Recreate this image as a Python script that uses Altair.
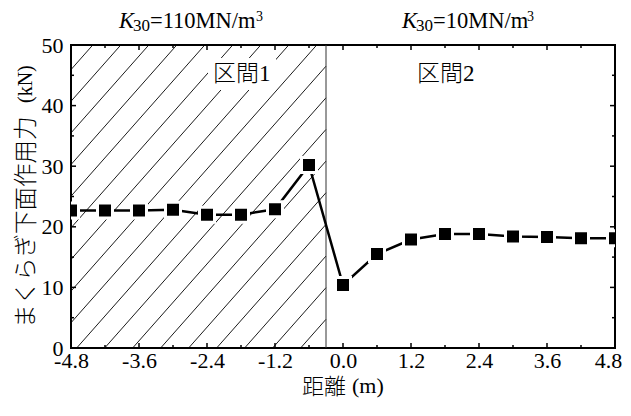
import altair as alt
import pandas as pd
import numpy as np

# ---- data ----
dist = [-4.8, -4.2, -3.6, -3.0, -2.4, -1.8, -1.2, -0.6, 0.0, 0.6, 1.2, 1.8, 2.4, 3.0, 3.6, 4.2, 4.8]
force = [22.7, 22.7, 22.7, 22.8, 22.0, 22.0, 22.9, 30.2, 10.4, 15.5, 17.9, 18.8, 18.8, 18.4, 18.3, 18.1, 18.1]
x_major = [-4.8, -3.6, -2.4, -1.2, 0.0, 1.2, 2.4, 3.6, 4.8]
x_minor = [-4.2, -3.0, -1.8, -0.6, 0.6, 1.8, 3.0, 4.2]
y_major = [0, 10, 20, 30, 40, 50]
y_minor = [5, 15, 25, 35, 45]
boundary = [-0.3]

W, H = 544, 303
SERIF = "Liberation Serif"
CJK = "Noto Sans CJK JP"
XMIN, XMAX, YMIN, YMAX = -4.8, 4.8, 0, 50

df = pd.DataFrame({"x": dist, "y": force})

# hatch pattern (decoration) for the left region
slope = 10.57
step = 0.494
x0s = -4.70 + step * np.arange(-12, 12)
rows = []
for x0 in x0s:
    xs = max(x0, XMIN)
    xe = min(x0 + YMAX / slope, boundary[0])
    if xs < xe:
        rows.append({"hx": xs, "hy": slope * (xs - x0), "hx2": xe, "hy2": slope * (xe - x0)})
hatch_df = pd.DataFrame(rows)

xs_ = alt.Scale(domain=[XMIN, XMAX], nice=False, zero=False)
ys_ = alt.Scale(domain=[YMIN, YMAX], nice=False, zero=False)

x_axis = alt.Axis(values=x_major, title=None, ticks=False, domain=False, grid=False,
                  labelFont=SERIF, labelFontSize=22, labelColor="black", labelPadding=2,
                  labelFlush=False, labelOverlap=False,
                  labelOffset={"condition": {"test": "datum.value >= 4.8", "value": -7}, "value": 0},
                  labelExpr="replace(format(datum.value, '.1f'), '\u2212', '-')")
y_axis = alt.Axis(values=y_major, title=None, ticks=False, domain=False, grid=False,
                  labelFont=SERIF, labelFontSize=22, labelColor="black", labelPadding=8,
                  labelFlush=False, labelOverlap=False)

def X(f):
    return alt.X(f, scale=xs_, axis=x_axis)

def Y(f):
    return alt.Y(f, scale=ys_, axis=y_axis)

hatch = alt.Chart(hatch_df).mark_rule(color="black", strokeWidth=0.9, clip=True).encode(
    x=X("hx:Q"), y=Y("hy:Q"), x2="hx2:Q", y2="hy2:Q")

white_box = alt.Chart(pd.DataFrame({"a": [0]})).mark_rect(color="white").encode(
    x=alt.value(137), x2=alt.value(205), y=alt.value(13), y2=alt.value(45))

vline = alt.Chart(pd.DataFrame({"b": boundary})).mark_rule(color="#333333", strokeWidth=1).encode(
    x=X("b:Q"), y=alt.value(0), y2=alt.value(H))

def tick_layer(vals, orient, length):
    d = pd.DataFrame({"v": vals})
    base = alt.Chart(d).mark_rule(color="black", strokeWidth=1.5)
    if orient == "bottom":
        return base.encode(x=X("v:Q"), y=alt.value(H), y2=alt.value(H - length))
    if orient == "top":
        return base.encode(x=X("v:Q"), y=alt.value(0), y2=alt.value(length))
    if orient == "left":
        return base.encode(y=Y("v:Q"), x=alt.value(0), x2=alt.value(length))
    return base.encode(y=Y("v:Q"), x=alt.value(W), x2=alt.value(W - length))

ticks = []
for o in ["bottom", "top"]:
    ticks.append(tick_layer(x_major, o, 5))
    ticks.append(tick_layer(x_minor, o, 3))
for o in ["left", "right"]:
    ticks.append(tick_layer(y_major, o, 5))
    ticks.append(tick_layer(y_minor, o, 3))

line = alt.Chart(df).mark_line(color="black", strokeWidth=2.5, clip=True).encode(
    x=X("x:Q"), y=Y("y:Q"))

points = alt.Chart(df).mark_point(shape="square", filled=True, fill="black", stroke="white",
                                  strokeWidth=3, size=225, opacity=1, clip=True).encode(
    x=X("x:Q"), y=Y("y:Q"))

def txt(text, x, y, size, style="normal", align="left", baseline="alphabetic", angle=0,
        font=SERIF, weight=400):
    return alt.Chart(pd.DataFrame({"t": [text]})).mark_text(
        font=font, fontSize=size, fontStyle=style, fontWeight=weight, align=align,
        baseline=baseline, angle=angle, color="black").encode(
        text="t:N", x=alt.value(x), y=alt.value(y))

labels = [
    txt("K", 48, -17, 22.5, style="italic"),
    txt("30", 62, -14.5, 17),
    txt("=110MN/m", 79, -17, 22.5),
    txt("3", 185, -24, 14),
    txt("K", 331, -17, 22.5, style="italic"),
    txt("30", 345, -14.5, 17),
    txt("=10MN/m", 362, -17, 22.5),
    txt("3", 456, -24, 14),
    txt("区間", 142, 36, 23, font=CJK, weight=300),
    txt("1", 188, 36, 23),
    txt("区間", 346, 36, 23, font=CJK, weight=300),
    txt("2", 392, 36, 23),
    txt("距離", 231, 349, 22, font=CJK, weight=300),
    txt("(m)", 281, 348, 22),
    txt("まくらぎ下面作用力", -37, 283, 23.5, angle=270, font=CJK, weight=300),
    txt("(kN)", -39, 58, 20, angle=270),
]

chart = alt.layer(hatch, white_box, vline, *ticks, line, points, *labels).properties(
    width=W, height=H,
    padding={"left": 63, "top": 37, "right": 8, "bottom": 60},
    autosize=alt.AutoSizeParams(type="none"),
).configure_view(stroke="black", strokeWidth=2)

chart.save("out.html", embed_options={"renderer": "svg", "actions": False})
